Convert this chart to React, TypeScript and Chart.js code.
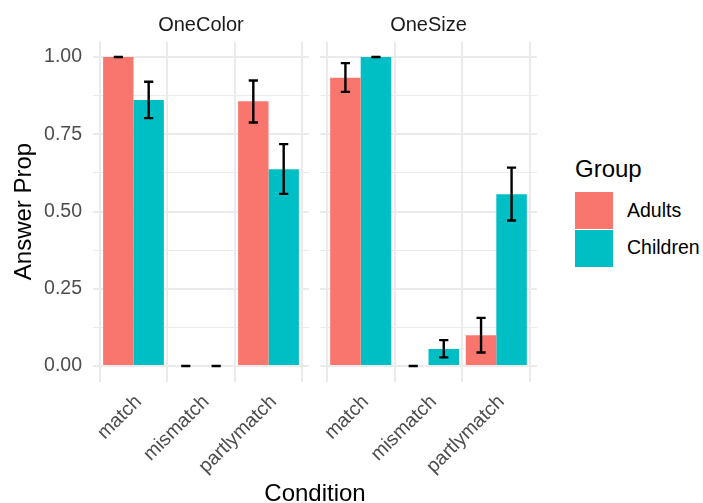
import React, { useEffect, useRef } from "react";
import { Chart, registerables } from "chart.js";

Chart.register(...registerables);

const conditions = ["match", "mismatch", "partlymatch"];
const groups = ["Adults", "Children"];
const groupColors = ["#F8766D", "#00BFC4"];
const yTickValues = [0, 0.125, 0.25, 0.375, 0.5, 0.625, 0.75, 0.875, 1];

const oneColorAdults = [1.0, 0, 0.857];
const oneColorAdultsLow = [1.0, 0, 0.788];
const oneColorAdultsHigh = [1.0, 0, 0.924];
const oneColorChildren = [0.861, 0, 0.637];
const oneColorChildrenLow = [0.802, 0, 0.557];
const oneColorChildrenHigh = [0.92, 0, 0.718];

const oneSizeAdults = [0.933, 0, 0.1];
const oneSizeAdultsLow = [0.887, 0, 0.044];
const oneSizeAdultsHigh = [0.98, 0, 0.156];
const oneSizeChildren = [1.0, 0.055, 0.556];
const oneSizeChildrenLow = [1.0, 0.028, 0.471];
const oneSizeChildrenHigh = [1.0, 0.084, 0.642];

const FONT = "'Liberation Sans', Arial, sans-serif";
const GRID = "#EBEBEB";

const errorBarPlugin = {
  id: "errorBars",
  afterDatasetsDraw(chart: any) {
    const { ctx } = chart;
    const y = chart.scales.y;
    chart.data.datasets.forEach((ds: any, i: number) => {
      const meta = chart.getDatasetMeta(i);
      meta.data.forEach((bar: any, j: number) => {
        const lo = ds.errLow[j];
        const hi = ds.errHigh[j];
        const x = bar.x;
        const yl = y.getPixelForValue(lo);
        const yh = y.getPixelForValue(hi);
        const hw = 4.6;
        ctx.save();
        ctx.strokeStyle = "#000000";
        ctx.lineWidth = 2.4;
        ctx.lineCap = "butt";
        ctx.beginPath();
        ctx.moveTo(x, yl);
        ctx.lineTo(x, yh);
        ctx.moveTo(x - hw, yl);
        ctx.lineTo(x + hw, yl);
        ctx.moveTo(x - hw, yh);
        ctx.lineTo(x + hw, yh);
        ctx.stroke();
        ctx.restore();
      });
    });
  },
};

function makeDatasets(vals: number[][], lows: number[][], highs: number[][]) {
  return groups.map((g, gi) => ({
    label: g,
    data: vals[gi].map((v, ci) => ({ x: ci + 1, y: v })),
    errLow: lows[gi],
    errHigh: highs[gi],
    backgroundColor: groupColors[gi],
    borderWidth: 0,
    categoryPercentage: 0.9,
    barPercentage: 1.0,
  }));
}

function makeConfig(datasets: any[], showY: boolean): any {
  return {
    type: "bar",
    data: { datasets },
    plugins: [errorBarPlugin],
    options: {
      responsive: false,
      animation: false,
      layout: {
        padding: { top: 41.5, right: showY ? 3 : 6, bottom: 0, left: showY ? 0 : 8 },
      },
      plugins: { legend: { display: false }, tooltip: { enabled: false }, title: { display: false } },
      scales: {
        x: {
          type: "linear",
          min: 0.4,
          max: 3.6,
          offset: false,
          afterBuildTicks: (scale: any) => {
            scale.ticks = [1, 2, 3].map((v) => ({ value: v }));
          },
          afterFit: (scale: any) => {
            scale.height = 121.5;
          },
          grid: { color: GRID, lineWidth: 2, drawTicks: false },
          border: { display: false },
          ticks: {
            autoSkip: false,
            minRotation: 45,
            maxRotation: 45,
            padding: 9,
            labelOffset: 5,
            color: "#4D4D4D",
            font: { family: FONT, size: 19.5 },
            callback: (v: number) => conditions[Math.round(v) - 1],
          },
        },
        y: {
          type: "linear",
          min: -0.05,
          max: 1.05,
          afterBuildTicks: (scale: any) => {
            scale.ticks = yTickValues.map((v) => ({ value: v }));
          },
          afterFit: (scale: any) => {
            scale.width = showY ? 93 : 0;
          },
          grid: {
            color: GRID,
            drawTicks: false,
            lineWidth: (c: any) => {
              const v = c.tick ? c.tick.value : 0;
              return Math.abs(v * 4 - Math.round(v * 4)) < 1e-6 ? 2 : 1;
            },
          },
          border: { display: false },
          ticks: {
            display: showY,
            padding: 11,
            color: "#4D4D4D",
            font: { family: FONT, size: 19.5 },
            callback: (v: number) =>
              Math.abs(v * 4 - Math.round(v * 4)) < 1e-6 ? v.toFixed(2) : "",
          },
          title: {
            display: showY,
            text: "Answer Prop",
            color: "#000000",
            font: { family: FONT, size: 24 },
            padding: { top: 10, bottom: 0 },
          },
        },
      },
    },
  };
}

function Label(props: { text: string; cx?: number; left?: number; cy: number; size: number; color?: string }) {
  const { text, cx, left, cy, size, color } = props;
  const style: any = {
    position: "absolute",
    top: cy - size * 0.6,
    height: size * 1.2,
    lineHeight: `${size * 1.2}px`,
    fontSize: size,
    fontFamily: FONT,
    color: color || "#000000",
    whiteSpace: "nowrap",
  };
  if (cx !== undefined) {
    style.left = cx - 200;
    style.width = 400;
    style.textAlign = "center";
  } else {
    style.left = left;
  }
  return <div style={style}>{text}</div>;
}

export default function App() {
  const ref1 = useRef<HTMLCanvasElement>(null);
  const ref2 = useRef<HTMLCanvasElement>(null);

  useEffect(() => {
    const c1 = new Chart(
      ref1.current as HTMLCanvasElement,
      makeConfig(
        makeDatasets(
          [oneColorAdults, oneColorChildren],
          [oneColorAdultsLow, oneColorChildrenLow],
          [oneColorAdultsHigh, oneColorChildrenHigh]
        ),
        true
      )
    );
    const c2 = new Chart(
      ref2.current as HTMLCanvasElement,
      makeConfig(
        makeDatasets(
          [oneSizeAdults, oneSizeChildren],
          [oneSizeAdultsLow, oneSizeChildrenLow],
          [oneSizeAdultsHigh, oneSizeChildrenHigh]
        ),
        false
      )
    );
    return () => {
      c1.destroy();
      c2.destroy();
    };
  }, []);

  return (
    <div
      style={{
        position: "fixed",
        left: 0,
        top: 0,
        width: 703,
        height: 503,
        background: "#FFFFFF",
        overflow: "hidden",
      }}
    >
      <canvas ref={ref1} width={312} height={503} style={{ position: "absolute", left: 0, top: 0, display: "block" }} />
      <canvas ref={ref2} width={231} height={503} style={{ position: "absolute", left: 312, top: 0, display: "block" }} />
      <Label text="OneColor" cx={201} cy={24} size={20} color="#1A1A1A" />
      <Label text="OneSize" cx={428.5} cy={24} size={20} color="#1A1A1A" />
      <Label text="Condition" cx={315} cy={493} size={24} />
      <Label text="Group" left={575} cy={169} size={24} />
      <div style={{ position: "absolute", left: 575, top: 192, width: 38, height: 36.5, background: groupColors[0] }} />
      <div style={{ position: "absolute", left: 575, top: 230, width: 38, height: 36.5, background: groupColors[1] }} />
      <Label text={groups[0]} left={627} cy={211} size={19.5} />
      <Label text={groups[1]} left={627} cy={248} size={19.5} />
    </div>
  );
}
